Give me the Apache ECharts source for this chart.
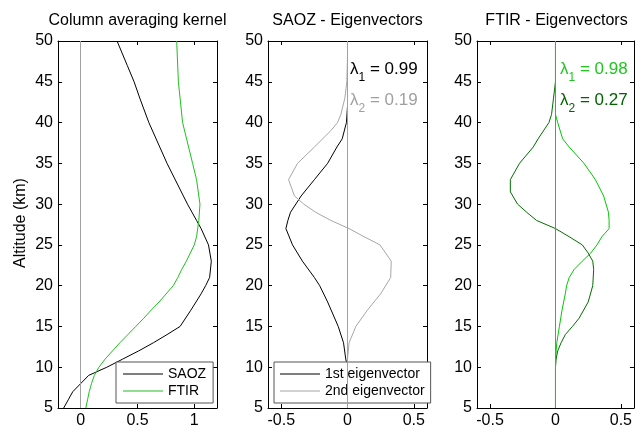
<!DOCTYPE html>
<html><head><meta charset="utf-8">
<script src="https://cdn.jsdelivr.net/npm/echarts@6/dist/echarts.min.js"></script>
<style>html,body{margin:0;padding:0;background:#fff}#c{width:635px;height:429px}</style>
</head><body><div id="c"></div>
<script>
// ---- data ----
const panelTitles = ['Column averaging kernel', 'SAOZ - Eigenvectors', 'FTIR - Eigenvectors'];
const yTicks = [5, 10, 15, 20, 25, 30, 35, 40, 45, 50];
const xTicksKernel = [0, 0.5, 1];
const xTicksEigen = [-0.5, 0, 0.5];

const altSaozKernel = [5,6,7,8,9,10,11,12,13,14,15,17,19,20,21,23,25,27,28,30,35,40,43,45,47,50];
const saozKernel = [-0.15,-0.11,-0.07,0.0,0.07,0.23,0.37,0.51,0.64,0.76,0.875,0.97,1.06,1.10,1.135,1.15,1.125,1.06,1.02,0.94,0.76,0.60,0.52,0.47,0.41,0.32];

const altFtirKernel = [5,6,7,8,9,10,11,12,13,14,15,16,17,18,20,21,22,23,24,25,26,28,30,33,35,40,45,50];
const ftirKernel = [0.045,0.06,0.075,0.095,0.12,0.16,0.215,0.28,0.345,0.415,0.485,0.555,0.62,0.69,0.815,0.855,0.89,0.93,0.965,1.0,1.02,1.04,1.05,1.02,0.985,0.897,0.86,0.845];

const altSaozEv1 = [5,10,11,13,15,18,20,21,23,25,27,28,29,31,33,35,37,38,40,42,44];
const saozEv1 = [0,0,-0.013,-0.03,-0.07,-0.15,-0.21,-0.25,-0.34,-0.415,-0.465,-0.45,-0.43,-0.35,-0.25,-0.15,-0.08,-0.04,-0.008,0.0,0.0];

const altSaozEv2 = [5,11,13,15,17,19,21,23,25,26,27,28,29,30,31,33,35,37,39,40,41,43,45,48];
const saozEv2 = [0,0,0.012,0.063,0.15,0.25,0.326,0.33,0.245,0.125,0.012,-0.126,-0.24,-0.33,-0.40,-0.445,-0.377,-0.25,-0.126,-0.075,-0.05,-0.02,-0.005,0];

const altFtirEv1 = [5,10,11,13,15,17,19,20,21,22,23,24,25,26,27,28,29,31,33,35,37,38,40,41,50];
const ftirEv1 = [0,0,0,0.01,0.03,0.05,0.075,0.085,0.105,0.143,0.205,0.27,0.317,0.355,0.41,0.41,0.405,0.368,0.305,0.218,0.105,0.055,0.017,0,0];

const altFtirEv2 = [5,10,11,12,13,14,15,16,18,20,22,23,24,25,26,27,28,29,30,31.5,33,35,37,38,40,41,43,45,50];
const ftirEv2 = [0,0,0.005,0.017,0.043,0.075,0.13,0.18,0.25,0.285,0.292,0.285,0.25,0.205,0.105,0.0,-0.145,-0.22,-0.29,-0.345,-0.345,-0.275,-0.17,-0.133,-0.05,-0.03,-0.015,0,0];

const lambdaSaoz = ['0.99', '0.19'];
const lambdaFtir = ['0.98', '0.27'];

// ---- chart ----
const FONT = 'Liberation Sans';
const pair = (alts, vals) => alts.map((a, i) => [vals[i], a]);
const grids = [
  {left: 58, top: 41, width: 159, height: 367},
  {left: 268, top: 41, width: 159, height: 367},
  {left: 477, top: 41, width: 159, height: 367}
];
const xRanges = [[-0.2, 1.2], [-0.6, 0.6], [-0.6, 0.6]];
const xTickSets = [xTicksKernel, xTicksEigen, xTicksEigen];

const xAxis = [], yAxis = [];
grids.forEach((g, i) => {
  const base = {
    type: 'value', gridIndex: i, min: xRanges[i][0], max: xRanges[i][1],
    splitLine: {show: false},
    axisLine: {show: true, onZero: false, lineStyle: {color: '#000', width: 1}},
  };
  xAxis.push(Object.assign({}, base, {
    position: 'bottom',
    axisTick: {show: true, inside: true, length: 4, lineStyle: {color: '#000'}, customValues: xTickSets[i]},
    axisLabel: {show: true, color: '#000', fontSize: 16, fontFamily: FONT, margin: 5,
      customValues: xTickSets[i], formatter: v => String(v)}
  }));
  xAxis.push(Object.assign({}, base, {
    position: 'top',
    axisTick: {show: true, inside: true, length: 4, lineStyle: {color: '#000'}, customValues: xTickSets[i]},
    axisLabel: {show: false}
  }));
  const ybase = {
    type: 'value', gridIndex: i, min: 5, max: 50, interval: 5,
    splitLine: {show: false},
    axisLine: {show: true, onZero: false, lineStyle: {color: '#000', width: 1}},
    axisTick: {show: true, inside: true, length: 4, lineStyle: {color: '#000'}}
  };
  yAxis.push(Object.assign({}, ybase, {
    position: 'left',
    axisLabel: {show: true, color: '#000', fontSize: 16, fontFamily: FONT, margin: 5}
  }));
  yAxis.push(Object.assign({}, ybase, {position: 'right', axisLabel: {show: false}}));
});

const zeroLine = (color) => ({
  silent: true, symbol: ['none', 'none'], animation: false,
  label: {show: false},
  lineStyle: {color: color, type: 'solid', width: 1},
  data: [{xAxis: 0}]
});

const mkLine = (name, gi, data, color, zeroColor) => {
  const s = {
    name: name, type: 'line', xAxisIndex: gi * 2, yAxisIndex: gi * 2,
    data: data, symbol: 'none', showSymbol: false, animation: false,
    lineStyle: {color: color, width: 1}, itemStyle: {color: color}
  };
  if (zeroColor) s.markLine = zeroLine(zeroColor);
  return s;
};

const series = [
  mkLine('SAOZ', 0, pair(altSaozKernel, saozKernel), '#000000', '#a0a0a0'),
  mkLine('FTIR', 0, pair(altFtirKernel, ftirKernel), '#1fbf1f'),
  mkLine('1st eigenvector', 1, pair(altSaozEv1, saozEv1), '#000000', '#a0a0a0'),
  mkLine('2nd eigenvector', 1, pair(altSaozEv2, saozEv2), '#a6a6a6'),
  mkLine('FTIR ev1', 2, pair(altFtirEv1, ftirEv1), '#00c800', '#808080'),
  mkLine('FTIR ev2', 2, pair(altFtirEv2, ftirEv2), '#006e00')
];

const legendBase = {
  orient: 'vertical', itemWidth: 40, itemHeight: 1.2, itemGap: 3, icon: 'rect',
  selectedMode: false, backgroundColor: '#fff', borderColor: '#555', borderWidth: 1,
  borderRadius: 0,
  textStyle: {color: '#000', fontSize: 14, fontFamily: FONT, lineHeight: 14}
};
const legend = [
  Object.assign({}, legendBase, {data: ['SAOZ', 'FTIR'], left: 116, top: 362, padding: [5, 7, 5, 7]}),
  Object.assign({}, legendBase, {data: ['1st eigenvector', '2nd eigenvector'], left: 274, top: 362, padding: [5, 6, 5, 6]})
];

const textEl = (x, y, text, opts) => Object.assign({
  type: 'text', x: x, y: y, silent: true,
  style: {text: text, fill: '#000', fontSize: 16, fontFamily: FONT, align: 'center', verticalAlign: 'middle'}
}, opts || {});

const lambdaEl = (x, yc, idx, val, color) => ({
  type: 'text', x: x, y: yc - 10, silent: true,
  style: {
    text: '{a|λ}{s|' + idx + '}{a| = ' + val + '}',
    fill: color, fontFamily: FONT, align: 'left', verticalAlign: 'top',
    rich: {
      a: {fontSize: 17, lineHeight: 20, verticalAlign: 'top', fill: color, fontFamily: FONT},
      s: {fontSize: 12, padding: [11, 0, 0, 0], verticalAlign: 'bottom', fill: color, fontFamily: FONT}
    }
  }
});

const graphic = [
  textEl(137.5, 21, panelTitles[0]),
  textEl(347.5, 21, panelTitles[1]),
  textEl(556.5, 21, panelTitles[2]),
  textEl(20.7, 223, 'Altitude (km)', {rotation: Math.PI / 2}),
  lambdaEl(350, 71, 1, lambdaSaoz[0], '#000000'),
  lambdaEl(350, 102, 2, lambdaSaoz[1], '#a0a0a0'),
  lambdaEl(560, 71, 1, lambdaFtir[0], '#1fc41f'),
  lambdaEl(560, 102, 2, lambdaFtir[1], '#006400')
];

const chart = echarts.init(document.getElementById('c'), null, {renderer: 'canvas'});
chart.setOption({
  animation: false,
  backgroundColor: '#fff',
  textStyle: {fontFamily: FONT},
  grid: grids, xAxis: xAxis, yAxis: yAxis, series: series, legend: legend, graphic: graphic
});
</script></body></html>
